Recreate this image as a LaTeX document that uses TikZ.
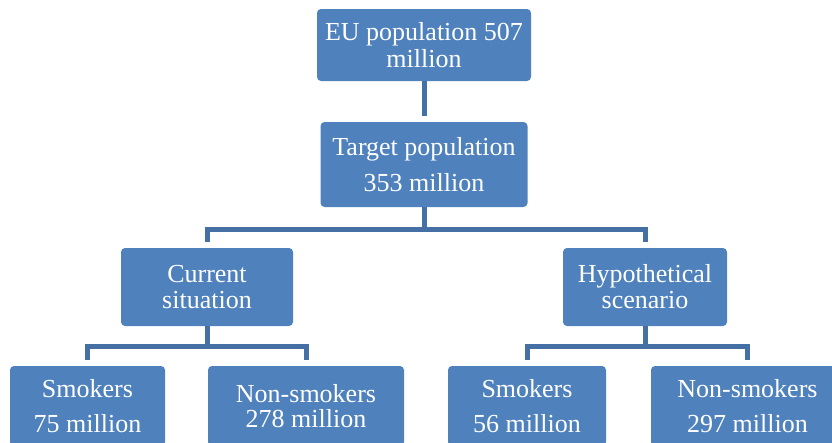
\documentclass[tikz,border=0pt]{standalone}
\usepackage{fontspec}
\setmainfont{Liberation Serif}
\definecolor{boxblue}{HTML}{4F81BD}
\definecolor{lineblue}{HTML}{4470A6}
\begin{document}
\begin{tikzpicture}[x=1pt,y=-1pt,
  box/.style={rounded corners=4pt, fill=boxblue, text=white, align=center,
    inner sep=0pt, font=\fontsize{26}{27}\selectfont},
  conn/.style={draw=lineblue, line width=5pt}]
\useasboundingbox (0,0) rectangle (832,442);
\node[box, minimum width=214pt, minimum height=72pt] (eu) at (424,45) {EU population 507\\million};
\node[box, minimum width=207pt, minimum height=85pt] (tp) at (424,164.5) {Target population\\[9pt]353 million};
\node[box, minimum width=172pt, minimum height=78pt] (cs) at (207,287) {Current\\[-1pt]situation};
\node[box, minimum width=164pt, minimum height=78pt] (hs) at (645,287) {Hypothetical\\[-1pt]scenario};
\node[box, minimum width=155pt, minimum height=80pt] (s1) at (87.5,406) {Smokers\\[8pt]75 million};
\node[box, minimum width=196pt, minimum height=80pt] (n1) at (306,406) {Non-smokers\\[-2pt]278 million};
\node[box, minimum width=158pt, minimum height=80pt] (s2) at (527,406) {Smokers\\[8pt]56 million};
\node[box, minimum width=193pt, minimum height=80pt] (n2) at (747.5,406) {Non-smokers\\[8pt]297 million};
\draw[conn, shorten >=6pt] (eu.south) -- (tp.north);
\draw[conn, shorten >=6pt] (tp.south) -- ++(0,22) -| (cs.north);
\draw[conn, shorten >=6pt] (tp.south) -- ++(0,22) -| (hs.north);
\draw[conn, shorten >=6pt] (cs.south) -- ++(0,20) -| (s1.north);
\draw[conn, shorten >=6pt] (cs.south) -- ++(0,20) -| (n1.north);
\draw[conn, shorten >=6pt] (hs.south) -- ++(0,20) -| (s2.north);
\draw[conn, shorten >=6pt] (hs.south) -- ++(0,20) -| (n2.north);
\end{tikzpicture}
\end{document}
